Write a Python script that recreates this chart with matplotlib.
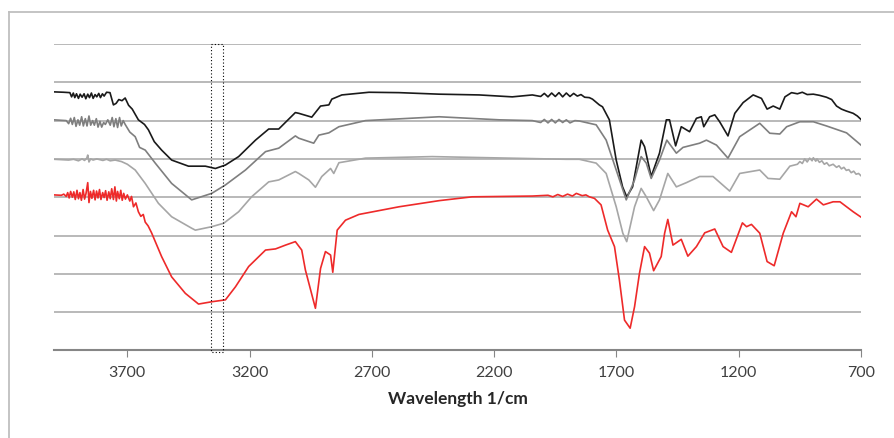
import numpy as np
import matplotlib.pyplot as plt
from matplotlib.lines import Line2D

# FTIR spectra, offset stacked (gridline units)
wn_black = [4000, 3960, 3935, 3928, 3921, 3915, 3908, 3900, 3893, 3885, 3877, 3870, 3862,
            3855, 3847, 3840, 3832, 3825, 3817, 3810, 3802, 3795, 3785, 3771,
            3757, 3746, 3735, 3722, 3709, 3695, 3680, 3655, 3630, 3614, 3590, 3560, 3519,
            3450, 3381, 3340, 3299, 3245, 3176, 3122, 3081, 3013, 2999, 2946, 2910, 2876,
            2864, 2823, 2712, 2589, 2425, 2261, 2126, 2044, 2010, 1995, 1980, 1965, 1950,
            1935, 1920, 1905, 1890, 1875, 1860, 1845, 1830, 1811,
            1798, 1770, 1757, 1729, 1701, 1675, 1658, 1634, 1599, 1585, 1558, 1524, 1496,
            1483, 1458, 1435, 1401, 1373, 1353, 1343, 1319, 1298, 1278, 1244, 1216, 1182,
            1141, 1107, 1084, 1059, 1032, 1011, 984, 960, 940, 920, 895, 870, 841, 820, 800,
            780, 760, 732, 715, 700]
val_black = [6.75, 6.74, 6.73, 6.62, 6.72, 6.60, 6.70, 6.58, 6.69, 6.61, 6.70, 6.57, 6.69,
             6.60, 6.72, 6.58, 6.68, 6.62, 6.71, 6.60, 6.70, 6.64, 6.74, 6.73,
             6.41, 6.45, 6.55, 6.52, 6.59, 6.40, 6.30, 6.02, 5.90, 5.76, 5.45, 5.23, 4.97,
             4.81, 4.81, 4.75, 4.84, 5.06, 5.49, 5.78, 5.78, 6.21, 6.19, 6.09, 6.38, 6.41,
             6.56, 6.67, 6.74, 6.73, 6.69, 6.67, 6.62, 6.67, 6.63, 6.71, 6.62, 6.72, 6.63,
             6.73, 6.62, 6.72, 6.63, 6.71, 6.64, 6.68, 6.61, 6.60,
             6.56, 6.41, 6.36, 6.02, 4.97, 4.27, 4.01, 4.27, 5.49, 5.32, 4.54, 5.15, 6.02,
             6.02, 5.34, 5.84, 5.71, 6.06, 6.10, 5.84, 6.10, 6.15, 5.97, 5.60, 6.19, 6.47,
             6.67, 6.58, 6.30, 6.38, 6.30, 6.62, 6.73, 6.70, 6.74, 6.68, 6.69, 6.66, 6.61,
             6.55, 6.38, 6.30, 6.25, 6.19, 6.12, 6.03]

wn_dgray = [4000, 3950, 3940, 3932, 3925, 3917, 3910, 3902, 3895, 3887, 3880, 3872, 3865,
            3857, 3850, 3842, 3835, 3827, 3820, 3812, 3805, 3797, 3790, 3780, 3770,
            3762, 3755, 3747, 3740, 3732, 3725, 3717, 3709, 3690, 3668, 3650, 3627, 3586,
            3519, 3437, 3355, 3299, 3217, 3135, 3081, 3013, 2999, 2938, 2917, 2876, 2835,
            2726, 2425, 2179, 2044, 2010, 1995, 1980, 1965, 1950, 1935, 1920, 1905, 1890,
            1870, 1852, 1783, 1742, 1701, 1660, 1626, 1599, 1578, 1558,
            1524, 1494, 1455, 1428, 1360, 1332, 1291, 1244, 1196, 1114, 1073, 1032, 1004,
            950, 895, 841, 759, 700]
val_dgray = [6.02, 6.00, 5.92, 6.06, 5.90, 6.08, 5.85, 6.02, 5.88, 6.10, 5.86, 6.05, 5.86,
             6.12, 5.88, 6.00, 5.88, 6.05, 5.83, 5.98, 5.83, 5.95, 5.90, 6.02, 5.88,
             6.08, 5.84, 6.05, 5.82, 6.08, 5.86, 6.00, 5.90, 5.70, 5.58, 5.30, 5.23, 4.89,
             4.36, 3.93, 4.10, 4.32, 4.71, 5.19, 5.28, 5.60, 5.54, 5.41, 5.62, 5.68, 5.84,
             6.00, 6.10, 6.02, 6.00, 5.95, 6.03, 5.94, 6.03, 5.94, 6.03, 5.95, 6.02, 5.94,
             6.00, 5.99, 5.89, 5.49, 4.71, 3.93, 4.45, 5.06, 4.89, 4.49,
             4.97, 5.49, 5.15, 5.30, 5.41, 5.49, 5.36, 5.02, 5.58, 5.93, 5.67, 5.65, 5.84,
             5.97, 5.97, 5.86, 5.68, 5.36]

wn_lgray = [4000, 3940, 3920, 3900, 3885, 3875, 3866, 3862, 3857, 3850, 3840, 3825, 3800,
            3785, 3770, 3750, 3724, 3700, 3668, 3627, 3573,
            3519, 3437, 3422, 3355, 3306, 3245, 3192, 3122, 3081, 3013, 2999, 2958, 2931,
            2905, 2869, 2856, 2835, 2726, 2454, 1906, 1852, 1783, 1742, 1701, 1674, 1658,
            1626, 1599, 1578, 1548, 1524, 1490, 1455, 1414, 1360, 1305, 1237, 1196, 1114,
            1080, 1032, 991, 960, 950, 940, 930, 920, 910, 900, 895, 885, 880, 870, 860, 850,
            840, 830, 814, 800, 790, 780, 770, 760, 750, 740, 730, 720, 710, 700]
val_lgray = [4.99, 4.97, 4.99, 4.95, 5.00, 4.96, 5.02, 5.10, 4.92, 5.00, 4.97, 5.00, 4.96,
             4.99, 4.95, 4.97, 4.93, 4.86, 4.71, 4.36, 3.84,
             3.49, 3.19, 3.14, 3.23, 3.32, 3.62, 4.01, 4.40, 4.45, 4.67, 4.62, 4.45, 4.26,
             4.54, 4.75, 4.62, 4.90, 5.02, 5.06, 4.99, 4.99, 4.89, 4.62, 3.75, 3.06, 2.84,
             3.75, 4.23, 4.01, 3.65, 3.93, 4.62, 4.27, 4.38, 4.54, 4.54, 4.16, 4.62, 4.71,
             4.49, 4.47, 4.81, 4.86, 4.93, 4.88, 5.00, 4.92, 5.02, 4.95, 5.03, 4.94, 5.00,
             4.91, 4.95, 4.86, 4.90, 4.82, 4.86, 4.78, 4.82, 4.74, 4.78, 4.70, 4.72, 4.64,
             4.68, 4.60, 4.62, 4.56]

wn_red = [4000, 3970, 3960, 3950, 3944, 3938, 3932, 3925, 3919, 3913, 3906, 3900, 3894,
          3888, 3881, 3875, 3869, 3862, 3857, 3851, 3845, 3838, 3832, 3826, 3820, 3814,
          3808, 3801, 3795, 3789, 3783, 3776, 3770, 3764, 3757, 3751, 3745, 3740, 3733,
          3727, 3721, 3715, 3708, 3700, 3690, 3683, 3675, 3665, 3655, 3645, 3635, 3627,
          3615, 3601, 3580, 3560, 3519,
          3463, 3409, 3355, 3299, 3258, 3204, 3135, 3094, 3053, 3013, 2987, 2972, 2931,
          2910, 2890, 2869, 2860, 2842, 2808, 2753, 2589, 2425, 2290, 2044, 1980, 1960,
          1940, 1920, 1900, 1880, 1864, 1840, 1825, 1811,
          1790, 1763, 1736, 1708, 1688, 1667, 1644, 1626, 1606, 1585, 1565, 1548, 1517,
          1503, 1490, 1469, 1435, 1408, 1373, 1339, 1298, 1264, 1230, 1185, 1168, 1148,
          1114, 1084, 1055, 1018, 984, 966, 950, 916, 882, 854, 814, 786, 732, 700]
val_red = [4.06, 4.05, 4.08, 4.02, 4.12, 3.98, 4.15, 4.00, 4.14, 3.94, 4.18, 3.96, 4.12,
           3.92, 4.20, 3.95, 4.10, 4.38, 3.86, 4.15, 3.97, 4.18, 3.93, 4.16, 3.98, 4.20,
           3.94, 4.12, 3.99, 4.17, 3.92, 4.14, 3.96, 4.22, 3.94, 4.27, 3.90, 4.15, 3.96,
           4.18, 3.92, 4.10, 3.95, 4.06, 3.90, 4.02, 3.75, 3.85, 3.62, 3.50, 3.55, 3.35,
           3.25, 3.07, 2.75, 2.45, 1.92,
           1.49, 1.21, 1.27, 1.32, 1.66, 2.19, 2.62, 2.65, 2.75, 2.84, 2.62, 2.10, 1.10,
           2.14, 2.58, 2.49, 2.04, 3.14, 3.40, 3.55, 3.75, 3.91, 4.01, 4.03, 4.05, 4.01,
           4.07, 4.02, 4.08, 4.03, 4.10, 4.04, 4.06, 4.01,
           3.97, 3.80, 3.14, 2.71, 1.84, 0.79, 0.58, 1.14, 2.01, 2.71, 2.54, 2.08, 2.45,
           3.06, 3.42, 2.75, 2.90, 2.46, 2.71, 3.07, 3.17, 2.71, 2.56, 3.33, 3.23, 3.29,
           3.06, 2.32, 2.21, 3.06, 3.62, 3.49, 3.84, 3.75, 3.95, 3.80, 3.88, 3.88, 3.62, 3.48]

xticks = [3700, 3200, 2700, 2200, 1700, 1200, 700]
box_x = [3360, 3310]

plt.rcParams['font.family'] = ['Lato', 'DejaVu Sans']

fig = plt.figure(figsize=(8.95, 4.38), dpi=100)
ax = fig.add_axes([54/895, 87.6/438, (861-54)/895, (350.4-44)/438])

# outer chart frame (left and top edges visible)
fig.add_artist(Line2D([9/895, 9/895], [0, 1 - 12/438], color='#bfbfbf', lw=1.3))
fig.add_artist(Line2D([9/895, 1], [1 - 12/438, 1 - 12/438], color='#bfbfbf', lw=1.3))

for g in range(1, 9):
    ax.axhline(g, color='#a6a6a6', lw=1.1, zorder=1)

ax.plot(wn_black, val_black, color='#1a1a1a', lw=1.2, zorder=3)
ax.plot(wn_dgray, val_dgray, color='#7f7f7f', lw=1.2, zorder=3)
ax.plot(wn_lgray, val_lgray, color='#a6a6a6', lw=1.2, zorder=3)
ax.plot(wn_red, val_red, color='#ee2a2a', lw=1.2, zorder=3)

# dotted marker box around ~3340 1/cm
bx = [box_x[0], box_x[1], box_x[1], box_x[0], box_x[0]]
by = [8, 8, -0.05, -0.05, 8]
ax.plot(bx, by, color='black', lw=0.8, ls=(0, (1, 2)), clip_on=False, zorder=4)

ax.set_xlim(4000, 700)
ax.set_ylim(0, 8)
ax.set_xticks(xticks)
ax.set_yticks([])
for s in ['top', 'right', 'left']:
    ax.spines[s].set_visible(False)
ax.spines['bottom'].set_color('#868686')
ax.spines['bottom'].set_linewidth(1.5)
ax.tick_params(axis='x', direction='out', length=5, width=0.8, color='#868686',
               labelsize=11.5, labelcolor='#404040', pad=6)
ax.set_xlabel('Wavelength 1/cm', fontsize=12.5, fontweight='bold', color='#262626', labelpad=8)

fig.savefig('out.png', dpi=100)
